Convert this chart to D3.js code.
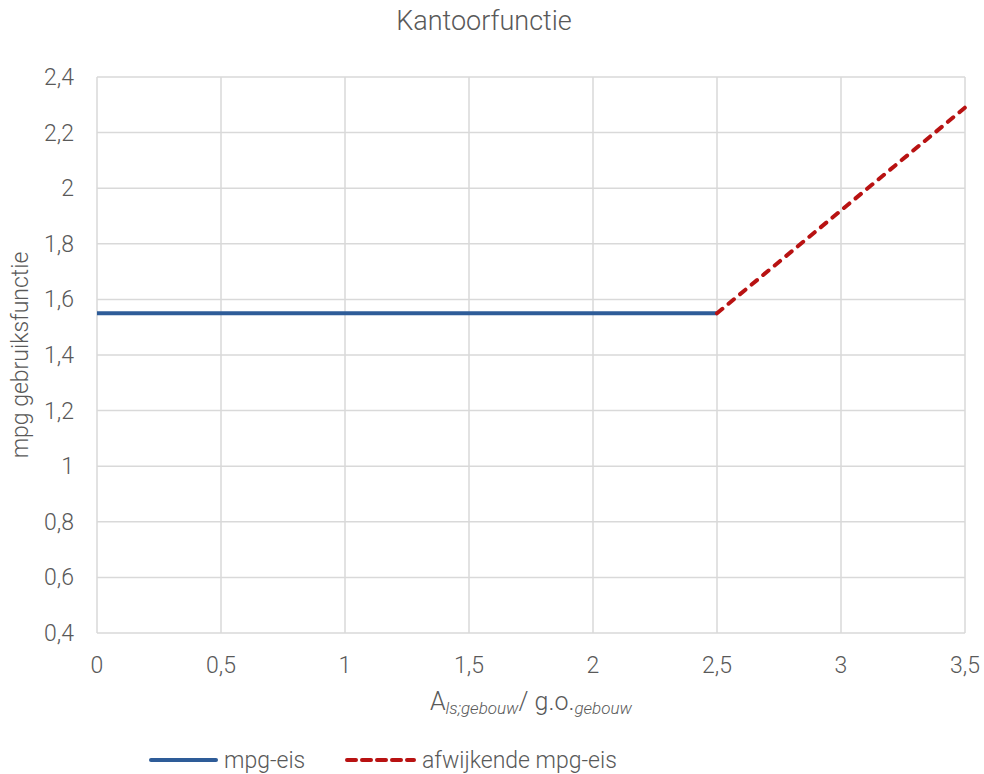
<!DOCTYPE html>
<html><head><meta charset="utf-8">
<script src="https://cdn.jsdelivr.net/npm/d3@7"></script>
<style>
body{margin:0;background:#fff;}
text{font-family:Roboto,"Liberation Sans",sans-serif;font-weight:300;fill:#595959;}
</style></head>
<body><svg id="c" width="984" height="774"></svg>
<script>
const xTicks=[0,0.5,1,1.5,2,2.5,3,3.5];
const yTicks=[0.4,0.6,0.8,1,1.2,1.4,1.6,1.8,2,2.2,2.4];
const mpgEisX=[0,2.5];
const mpgEisY=[1.55,1.55];
const afwX=[2.5,3.5];
const afwY=[1.55,2.29];
const title="Kantoorfunctie";
const yTitle="mpg gebruiksfunctie";
const legendNames=["mpg-eis","afwijkende mpg-eis"];

const svg=d3.select("#c");
const m={l:97,r:965,t:77,b:633};
const x=d3.scaleLinear().domain([0,3.5]).range([m.l,m.r]);
const y=d3.scaleLinear().domain([0.4,2.4]).range([m.b,m.t]);
const fmt=d=>String(d).replace(".",",");

svg.append("g").selectAll("line").data(yTicks).join("line")
 .attr("x1",m.l).attr("x2",m.r).attr("y1",d=>y(d)).attr("y2",d=>y(d))
 .attr("stroke","#d9d9d9").attr("stroke-width",1.5);
svg.append("g").selectAll("line").data(xTicks).join("line")
 .attr("y1",m.t).attr("y2",m.b).attr("x1",d=>x(d)).attr("x2",d=>x(d))
 .attr("stroke","#d9d9d9").attr("stroke-width",1.5);

svg.append("g").selectAll("text").data(yTicks).join("text")
 .attr("x",m.l-23).attr("y",d=>y(d)+8).attr("text-anchor","end")
 .attr("font-size",23).text(fmt);
svg.append("g").selectAll("text").data(xTicks).join("text")
 .attr("x",d=>x(d)).attr("y",673).attr("text-anchor","middle")
 .attr("font-size",23).text(fmt);

svg.append("text").attr("x",484).attr("y",30).attr("text-anchor","middle").attr("font-size",27).text(title);
svg.append("text").attr("transform",`translate(28,${(m.t+m.b)/2}) rotate(-90)`).attr("text-anchor","middle").attr("font-size",23).text(yTitle);

const xt=svg.append("text").attr("x",(m.l+m.r)/2).attr("y",710).attr("text-anchor","middle").attr("font-size",25);
xt.append("tspan").text("A");
xt.append("tspan").attr("font-size",17).attr("font-style","italic").attr("dy",4).text("ls;gebouw");
xt.append("tspan").attr("dy",-4).text("/ g.o.");
xt.append("tspan").attr("font-size",17).attr("font-style","italic").attr("dy",4).text("gebouw");

const line=d3.line().x(d=>x(d[0])).y(d=>y(d[1]));
svg.append("path").datum(mpgEisX.map((v,i)=>[v,mpgEisY[i]])).attr("d",line)
 .attr("fill","none").attr("stroke","#2e5c98").attr("stroke-width",4);
svg.append("path").datum(afwX.map((v,i)=>[v,afwY[i]])).attr("d",line)
 .attr("fill","none").attr("stroke","#b81212").attr("stroke-width",4)
 .attr("stroke-dasharray","7,8").attr("stroke-linecap","round");

const lg=svg.append("g");
lg.append("line").attr("x1",151).attr("x2",216).attr("y1",760).attr("y2",760)
 .attr("stroke","#2e5c98").attr("stroke-width",4).attr("stroke-linecap","round");
lg.append("text").attr("x",224).attr("y",768).attr("font-size",23).text(legendNames[0]);
lg.append("line").attr("x1",347).attr("x2",414).attr("y1",760).attr("y2",760)
 .attr("stroke","#b81212").attr("stroke-width",4).attr("stroke-dasharray","9,6").attr("stroke-linecap","round");
lg.append("text").attr("x",422).attr("y",768).attr("font-size",23).text(legendNames[1]);
</script></body></html>
